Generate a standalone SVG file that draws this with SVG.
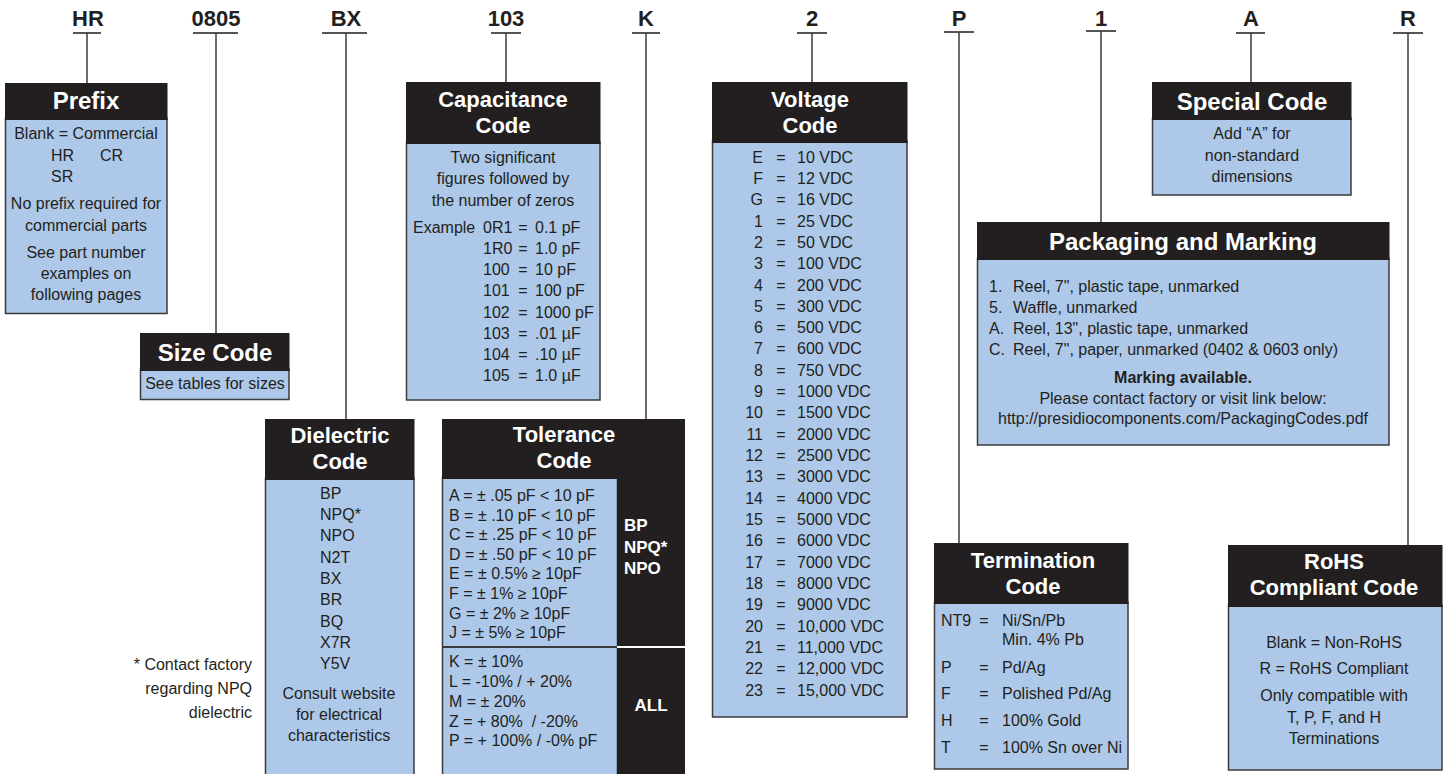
<svg xmlns="http://www.w3.org/2000/svg" width="1445" height="774" viewBox="0 0 1445 774">
<style>
.lbl{font-family:"Liberation Sans",Arial,sans-serif;font-weight:bold;font-size:22px;fill:#231f20;text-anchor:middle}
.hd{font-family:"Liberation Sans",Arial,sans-serif;font-weight:bold;font-size:24px;fill:#ffffff;text-anchor:middle}
.h2{font-size:22px}
.tx{font-family:"Liberation Sans",Arial,sans-serif;font-size:16px;fill:#231f20}
.bw{font-family:"Liberation Sans",Arial,sans-serif;font-weight:bold;font-size:17px;fill:#ffffff}
.bd{font-weight:bold}
.m{text-anchor:middle}
.e{text-anchor:end}
.head{fill:#231f20}
.body{fill:#adc8e8;stroke:#3b3b3e;stroke-width:1.5}
.con line{stroke:#3b3b3e;stroke-width:1.5}
.con .ul{stroke:#555;stroke-width:2}
</style>

<g id="labels">
<text class="lbl" x="88" y="26">HR</text>
<text class="lbl" x="216" y="26">0805</text>
<text class="lbl" x="346" y="26">BX</text>
<text class="lbl" x="506" y="26">103</text>
<text class="lbl" x="646" y="26">K</text>
<text class="lbl" x="812" y="26">2</text>
<text class="lbl" x="959" y="26">P</text>
<text class="lbl" x="1101" y="26">1</text>
<text class="lbl" x="1251" y="26">A</text>
<text class="lbl" x="1408" y="26">R</text>
</g>

<g id="connectors" class="con">
<line class="ul" x1="73" y1="33" x2="101" y2="33"/>
<line class="ul" x1="193" y1="33" x2="238" y2="33"/>
<line class="ul" x1="322" y1="33" x2="367" y2="33"/>
<line class="ul" x1="491" y1="33" x2="521" y2="33"/>
<line class="ul" x1="632" y1="33" x2="660" y2="33"/>
<line class="ul" x1="797" y1="33" x2="827" y2="33"/>
<line class="ul" x1="944" y1="32" x2="974" y2="32"/>
<line class="ul" x1="1086" y1="31" x2="1116" y2="31"/>
<line class="ul" x1="1236" y1="33" x2="1265" y2="33"/>
<line class="ul" x1="1393" y1="33" x2="1423" y2="33"/>
<line x1="87" y1="33" x2="87" y2="83"/>
<line x1="216" y1="33" x2="216" y2="333"/>
<line x1="346" y1="33" x2="346" y2="419"/>
<line x1="506" y1="33" x2="506" y2="82"/>
<line x1="646" y1="33" x2="646" y2="419"/>
<line x1="812" y1="33" x2="812" y2="82"/>
<line x1="959" y1="32" x2="959" y2="543"/>
<line x1="1101" y1="31" x2="1101" y2="222"/>
<line x1="1251" y1="33" x2="1251" y2="82"/>
<line x1="1408" y1="33" x2="1408" y2="545"/>
</g>

<g id="prefix">
<rect class="body" x="5.5" y="118" width="161.5" height="195.5"/>
<rect class="head" x="5" y="83" width="162.5" height="37"/>
<text class="hd" x="86" y="109">Prefix</text>
<text class="tx m" x="86" y="139">Blank = Commercial</text>
<text class="tx" x="51" y="161">HR</text>
<text class="tx" x="100" y="161">CR</text>
<text class="tx" x="51" y="182">SR</text>
<text class="tx m" x="86" y="209">No prefix required for</text>
<text class="tx m" x="86" y="231">commercial parts</text>
<text class="tx m" x="86" y="258">See part number</text>
<text class="tx m" x="86" y="279">examples on</text>
<text class="tx m" x="86" y="300">following pages</text>
</g>

<g id="size-code">
<rect class="body" x="140.5" y="369" width="148.5" height="30.5"/>
<rect class="head" x="140" y="333" width="149.5" height="38"/>
<text class="hd" x="215" y="361">Size Code</text>
<text class="tx m" x="215" y="389">See tables for sizes</text>
</g>

<g id="capacitance-code">
<rect class="body" x="406.5" y="142" width="193.5" height="258"/>
<rect class="head" x="406" y="82" width="194.5" height="62"/>
<text class="hd h2" x="503" y="107">Capacitance</text>
<text class="hd h2" x="503" y="133">Code</text>
<text class="tx m" x="503" y="163">Two significant</text>
<text class="tx m" x="503" y="184">figures followed by</text>
<text class="tx m" x="503" y="206">the number of zeros</text>
<text class="tx" x="413" y="233">Example</text>
<g class="tx">
<text x="483" y="233">0R1</text><text class="m" x="523" y="233">=</text><text x="535" y="233">0.1 pF</text>
<text x="483" y="254">1R0</text><text class="m" x="523" y="254">=</text><text x="535" y="254">1.0 pF</text>
<text x="483" y="275">100</text><text class="m" x="523" y="275">=</text><text x="535" y="275">10 pF</text>
<text x="483" y="296">101</text><text class="m" x="523" y="296">=</text><text x="535" y="296">100 pF</text>
<text x="483" y="318">102</text><text class="m" x="523" y="318">=</text><text x="535" y="318">1000 pF</text>
<text x="483" y="339">103</text><text class="m" x="523" y="339">=</text><text x="535" y="339">.01 µF</text>
<text x="483" y="360">104</text><text class="m" x="523" y="360">=</text><text x="535" y="360">.10 µF</text>
<text x="483" y="381">105</text><text class="m" x="523" y="381">=</text><text x="535" y="381">1.0 µF</text>
</g>
</g>

<g id="voltage-code">
<rect class="body" x="712.5" y="141" width="194.5" height="576"/>
<rect class="head" x="712" y="82" width="195.5" height="61"/>
<text class="hd h2" x="810" y="107">Voltage</text>
<text class="hd h2" x="810" y="133">Code</text>
<g class="tx">
<text class="e" x="763" y="163">E</text><text class="m" x="781" y="163">=</text><text x="797" y="163">10 VDC</text>
<text class="e" x="763" y="184">F</text><text class="m" x="781" y="184">=</text><text x="797" y="184">12 VDC</text>
<text class="e" x="763" y="205">G</text><text class="m" x="781" y="205">=</text><text x="797" y="205">16 VDC</text>
<text class="e" x="763" y="227">1</text><text class="m" x="781" y="227">=</text><text x="797" y="227">25 VDC</text>
<text class="e" x="763" y="248">2</text><text class="m" x="781" y="248">=</text><text x="797" y="248">50 VDC</text>
<text class="e" x="763" y="269">3</text><text class="m" x="781" y="269">=</text><text x="797" y="269">100 VDC</text>
<text class="e" x="763" y="291">4</text><text class="m" x="781" y="291">=</text><text x="797" y="291">200 VDC</text>
<text class="e" x="763" y="312">5</text><text class="m" x="781" y="312">=</text><text x="797" y="312">300 VDC</text>
<text class="e" x="763" y="333">6</text><text class="m" x="781" y="333">=</text><text x="797" y="333">500 VDC</text>
<text class="e" x="763" y="354">7</text><text class="m" x="781" y="354">=</text><text x="797" y="354">600 VDC</text>
<text class="e" x="763" y="376">8</text><text class="m" x="781" y="376">=</text><text x="797" y="376">750 VDC</text>
<text class="e" x="763" y="397">9</text><text class="m" x="781" y="397">=</text><text x="797" y="397">1000 VDC</text>
<text class="e" x="763" y="418">10</text><text class="m" x="781" y="418">=</text><text x="797" y="418">1500 VDC</text>
<text class="e" x="763" y="440">11</text><text class="m" x="781" y="440">=</text><text x="797" y="440">2000 VDC</text>
<text class="e" x="763" y="461">12</text><text class="m" x="781" y="461">=</text><text x="797" y="461">2500 VDC</text>
<text class="e" x="763" y="482">13</text><text class="m" x="781" y="482">=</text><text x="797" y="482">3000 VDC</text>
<text class="e" x="763" y="504">14</text><text class="m" x="781" y="504">=</text><text x="797" y="504">4000 VDC</text>
<text class="e" x="763" y="525">15</text><text class="m" x="781" y="525">=</text><text x="797" y="525">5000 VDC</text>
<text class="e" x="763" y="546">16</text><text class="m" x="781" y="546">=</text><text x="797" y="546">6000 VDC</text>
<text class="e" x="763" y="568">17</text><text class="m" x="781" y="568">=</text><text x="797" y="568">7000 VDC</text>
<text class="e" x="763" y="589">18</text><text class="m" x="781" y="589">=</text><text x="797" y="589">8000 VDC</text>
<text class="e" x="763" y="610">19</text><text class="m" x="781" y="610">=</text><text x="797" y="610">9000 VDC</text>
<text class="e" x="763" y="632">20</text><text class="m" x="781" y="632">=</text><text x="797" y="632">10,000 VDC</text>
<text class="e" x="763" y="653">21</text><text class="m" x="781" y="653">=</text><text x="797" y="653">11,000 VDC</text>
<text class="e" x="763" y="674">22</text><text class="m" x="781" y="674">=</text><text x="797" y="674">12,000 VDC</text>
<text class="e" x="763" y="696">23</text><text class="m" x="781" y="696">=</text><text x="797" y="696">15,000 VDC</text>
</g>
</g>

<g id="dielectric-code">
<rect class="body" x="265.5" y="478" width="148.5" height="310"/>
<rect class="head" x="265" y="419" width="149.5" height="61"/>
<text class="hd h2" x="340" y="443">Dielectric</text>
<text class="hd h2" x="340" y="469">Code</text>
<g class="tx">
<text x="320" y="499">BP</text>
<text x="320" y="520">NPQ*</text>
<text x="320" y="541">NPO</text>
<text x="320" y="563">N2T</text>
<text x="320" y="584">BX</text>
<text x="320" y="605">BR</text>
<text x="320" y="627">BQ</text>
<text x="320" y="648">X7R</text>
<text x="320" y="669">Y5V</text>
<text class="m" x="339" y="699">Consult website</text>
<text class="m" x="339" y="720">for electrical</text>
<text class="m" x="339" y="741">characteristics</text>
</g>
</g>

<g id="footnote">
<text class="tx e" x="252" y="670" font-size="17.5">* Contact factory</text>
<text class="tx e" x="252" y="694" font-size="17.5">regarding NPQ</text>
<text class="tx e" x="252" y="718" font-size="17.5">dielectric</text>
</g>

<g id="tolerance-code">
<rect class="body" x="442.5" y="477" width="175" height="310"/>
<rect class="head" x="617" y="419" width="68" height="360"/>
<rect class="head" x="442" y="419" width="243" height="60"/>
<line x1="443" y1="647" x2="617" y2="647" stroke="#3b3b3e" stroke-width="2"/>
<line x1="617" y1="647" x2="685" y2="647" stroke="#ffffff" stroke-width="2"/>
<text class="hd h2" x="564" y="442">Tolerance</text>
<text class="hd h2" x="564" y="468">Code</text>
<g class="tx">
<text x="449" y="501">A = ± .05 pF &lt; 10 pF</text>
<text x="449" y="521">B = ± .10 pF &lt; 10 pF</text>
<text x="449" y="540">C = ± .25 pF &lt; 10 pF</text>
<text x="449" y="560">D = ± .50 pF &lt; 10 pF</text>
<text x="449" y="579">E = ± 0.5% ≥ 10pF</text>
<text x="449" y="599">F = ± 1% ≥ 10pF</text>
<text x="449" y="619">G = ± 2% ≥ 10pF</text>
<text x="449" y="638">J = ± 5% ≥ 10pF</text>
<text x="449" y="667">K = ± 10%</text>
<text x="449" y="687">L = -10% / + 20%</text>
<text x="449" y="707">M = ± 20%</text>
<text x="449" y="727" xml:space="preserve">Z = + 80%  / -20%</text>
<text x="449" y="746">P = + 100% / -0% pF</text>
</g>
<text class="bw" x="624" y="531">BP</text>
<text class="bw" x="624" y="553">NPQ*</text>
<text class="bw" x="624" y="574">NPO</text>
<text class="bw" x="651" y="711" text-anchor="middle">ALL</text>
</g>

<g id="special-code">
<rect class="body" x="1152.5" y="118" width="198.5" height="77"/>
<rect class="head" x="1152" y="82" width="199.5" height="38"/>
<text class="hd" x="1252" y="110">Special Code</text>
<text class="tx m" x="1252" y="139">Add “A” for</text>
<text class="tx m" x="1252" y="161">non-standard</text>
<text class="tx m" x="1252" y="182">dimensions</text>
</g>

<g id="packaging-marking">
<rect class="body" x="977.5" y="258" width="411.5" height="187"/>
<rect class="head" x="977" y="222" width="412.5" height="38"/>
<text class="hd" x="1183" y="250">Packaging and Marking</text>
<g class="tx">
<text x="989" y="292">1.</text><text x="1013" y="292">Reel, 7", plastic tape, unmarked</text>
<text x="989" y="313">5.</text><text x="1013" y="313">Waffle, unmarked</text>
<text x="989" y="334">A.</text><text x="1013" y="334">Reel, 13", plastic tape, unmarked</text>
<text x="989" y="355">C.</text><text x="1013" y="355">Reel, 7", paper, unmarked (0402 &amp; 0603 only)</text>
<text class="m bd" x="1183" y="383">Marking available.</text>
<text class="m" x="1183" y="404">Please contact factory or visit link below:</text>
<text class="m" x="1183" y="424">http://presidiocomponents.com/PackagingCodes.pdf</text>
</g>
</g>

<g id="termination-code">
<rect class="body" x="934.5" y="602" width="193.5" height="167"/>
<rect class="head" x="934" y="543" width="194.5" height="61"/>
<text class="hd h2" x="1033" y="568">Termination</text>
<text class="hd h2" x="1033" y="594">Code</text>
<g class="tx">
<text x="941" y="626">NT9</text><text class="m" x="984" y="626">=</text><text x="1002" y="626">Ni/Sn/Pb</text>
<text x="1002" y="645">Min. 4% Pb</text>
<text x="941" y="673">P</text><text class="m" x="984" y="673">=</text><text x="1002" y="673">Pd/Ag</text>
<text x="941" y="699">F</text><text class="m" x="984" y="699">=</text><text x="1002" y="699">Polished Pd/Ag</text>
<text x="941" y="726">H</text><text class="m" x="984" y="726">=</text><text x="1002" y="726">100% Gold</text>
<text x="941" y="753">T</text><text class="m" x="984" y="753">=</text><text x="1002" y="753">100% Sn over Ni</text>
</g>
</g>

<g id="rohs-code">
<rect class="body" x="1228.5" y="605" width="213.5" height="165"/>
<rect class="head" x="1228" y="545" width="214.5" height="62"/>
<text class="hd h2" x="1334" y="569">RoHS</text>
<text class="hd h2" x="1334" y="595">Compliant Code</text>
<text class="tx m" x="1334" y="648">Blank = Non-RoHS</text>
<text class="tx m" x="1334" y="674">R = RoHS Compliant</text>
<text class="tx m" x="1334" y="701">Only compatible with</text>
<text class="tx m" x="1334" y="723">T, P, F, and H</text>
<text class="tx m" x="1334" y="744">Terminations</text>
</g>
</svg>
